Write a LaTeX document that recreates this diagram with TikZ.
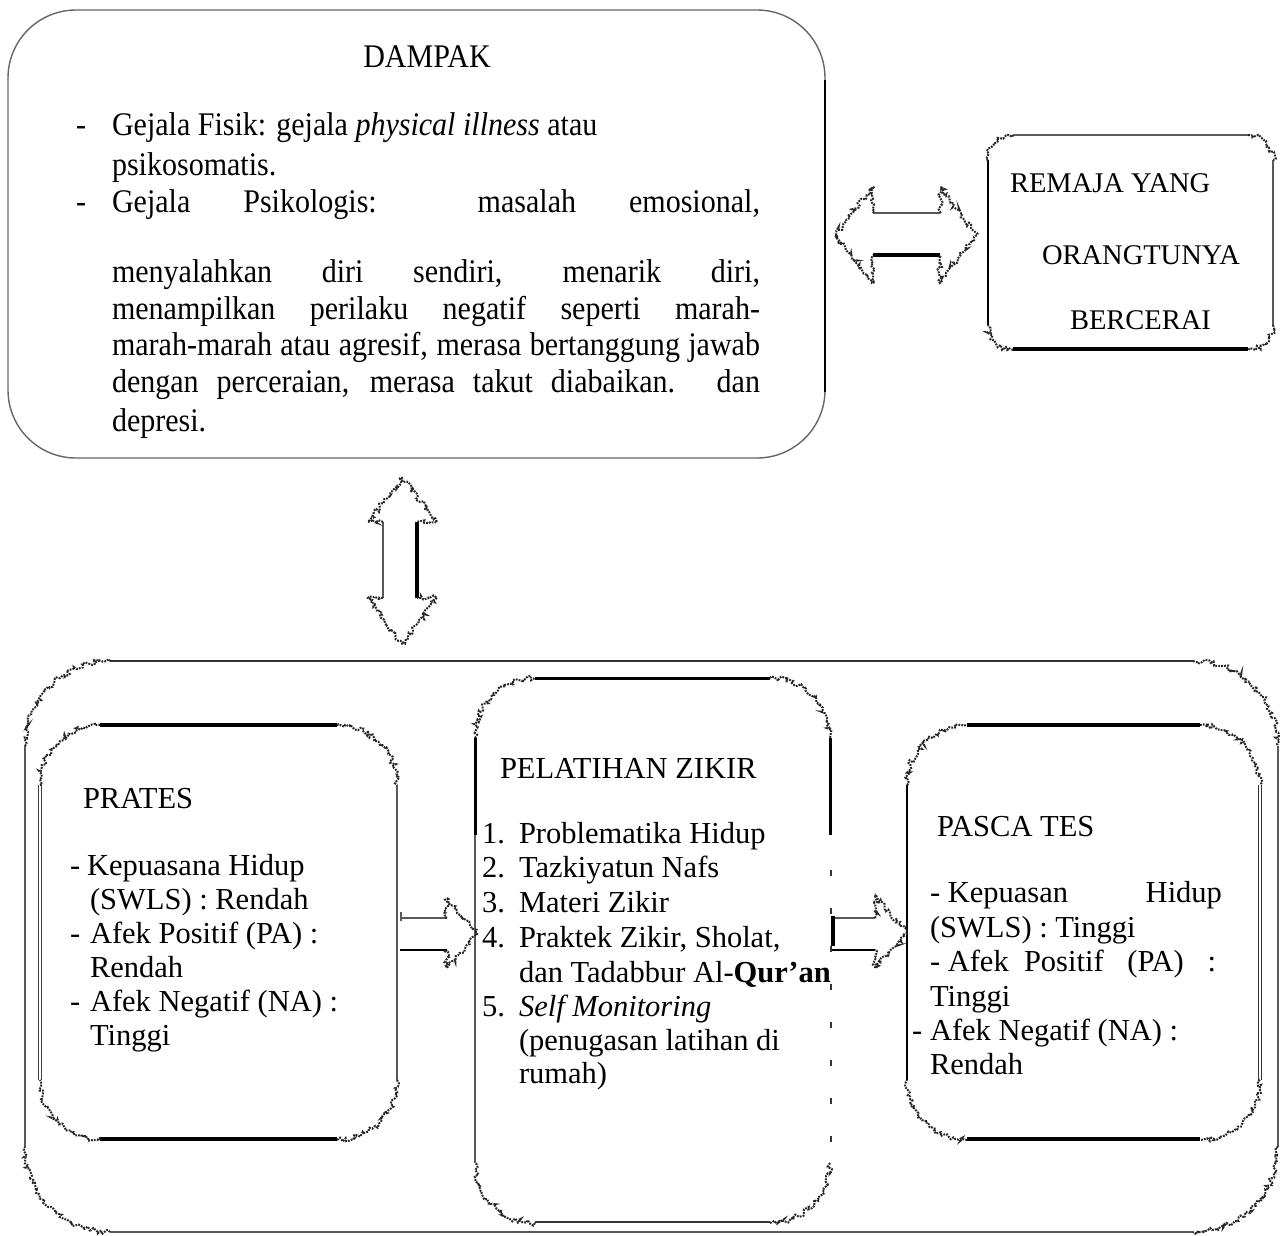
\documentclass[tikz,border=0pt]{standalone}
\usepackage{fontspec}
\setmainfont{Liberation Serif}
\newfontfamily\topfont{Liberation Serif}[FakeStretch=0.91]
\usetikzlibrary{decorations.pathmorphing}
\tikzset{
 txt/.style={anchor=base west, inner sep=0pt, outer sep=0pt},
 bigtxt/.style={txt, font=\topfont\fontsize{33}{40}\selectfont},
 remtxt/.style={txt, font=\fontsize{28.5}{33}\selectfont},
 lowtxt/.style={txt, font=\fontsize{30.5}{35}\selectfont},
 thinedge/.style={draw=black!65, line width=1.4},
 thickedge/.style={draw=black, line width=3.5},
 midedge/.style={draw=black, line width=2.2},
 speck/.style={draw=black!85, line width=2, decorate, decoration={random steps, segment length=2.4pt, amplitude=2.6pt}, dash pattern=on 1.8pt off 1.1pt},
 boxshape/.style={draw=none, inner sep=0pt, outer sep=0pt}
}
\newcommand\cornerset[5]{%
 \draw[speck] (#1,{#2+#5}) arc[start angle=180, end angle=270, radius=#5];
 \draw[speck] ({#3-#5},#2) arc[start angle=270, end angle=360, radius=#5];
 \draw[speck] (#3,{#4-#5}) arc[start angle=0, end angle=90, radius=#5];
 \draw[speck] ({#1+#5},#4) arc[start angle=90, end angle=180, radius=#5];
}
\begin{document}
\begin{tikzpicture}[x=1pt,y=-1pt]
\useasboundingbox (0,0) rectangle (1283,1235);

% ---------- DAMPAK box ----------
\node[boxshape, draw=black!60, line width=1.4, rounded corners=68pt, minimum width=817pt, minimum height=448pt] (dampak) at (416.5,234) {};
\draw[line width=2.6] (825,80) -- (825,392);

\node[bigtxt, anchor=base] (t0) at (427,67) {DAMPAK};
\node[bigtxt] (d1) at (76,135) {-};
\node[bigtxt] (l1) at (112,135) {Gejala Fisik: gejala \textit{physical illness} atau};
\node[bigtxt] (l2) at (112,175) {psikosomatis.};
\node[bigtxt] (d2) at (76,212) {-};
\node[bigtxt] (l3) at (112,212) {\makebox[648pt][s]{Gejala Psikologis: masalah emosional,}};
\node[bigtxt] (l4) at (112,282) {\makebox[648pt][s]{menyalahkan diri sendiri, menarik diri,}};
\node[bigtxt] (l5) at (112,319) {\makebox[648pt][s]{menampilkan perilaku negatif seperti marah-}};
\node[bigtxt] (l6) at (112,355) {\makebox[648pt][s]{marah-marah atau agresif, merasa bertanggung jawab}};
\node[bigtxt] (l7) at (112,392) {\makebox[648pt][s]{dengan perceraian, merasa takut diabaikan. dan}};
\node[bigtxt] (l8) at (112,431) {depresi.};

% ---------- REMAJA box ----------
\node[boxshape, minimum width=285pt, minimum height=215pt] (remaja) at (1130.5,242.5) {};
\draw[thinedge] (1013,135) -- (1248,135);
\draw[thickedge] (1013,349) -- (1248,349);
\draw[midedge] (988,160) -- (988,325);
\draw[thinedge] (1273,160) -- (1273,325);
\cornerset{988}{135}{1273}{350}{25}
\node[remtxt] (r1) at (1010,192) {REMAJA YANG};
\node[remtxt] (r2) at (1042,264) {ORANGTUNYA};
\node[remtxt] (r3) at (1070,329) {BERCERAI};

% ---------- horizontal double arrow ----------
\draw[thinedge] (873,213) -- (940,213);
\draw[line width=4] (873,255) -- (940,255);
\draw[speck] (873,213) -- (873,187) -- (835,235) -- (873,283) -- (873,255);
\draw[speck] (940,213) -- (940,187) -- (977,235) -- (940,283) -- (940,255);

% ---------- vertical double arrow ----------
\draw[thinedge] (383,522) -- (383,598);
\draw[line width=3.5] (417,522) -- (417,598);
\draw[speck] (383,522) -- (368,522) -- (402,478) -- (437,522) -- (417,522);
\draw[speck] (383,598) -- (368,598) -- (402,645) -- (437,598) -- (417,598);

% ---------- outer container ----------
\node[boxshape, minimum width=1253pt, minimum height=572pt] (outer) at (651.5,947) {};
\draw[draw=black!80, line width=2.2] (110,661) -- (1193,661);
\draw[thinedge] (110,1232) -- (1193,1232);
\draw[thinedge] (25,746) -- (25,1147);
\draw[thinedge] (1278,746) -- (1278,1147);
\cornerset{25}{661}{1278}{1232}{85}

% ---------- PRATES box ----------
\node[boxshape, minimum width=357pt, minimum height=415pt] (prates) at (218.5,932.5) {};
\draw[thickedge] (100,725) -- (337,725);
\draw[thickedge] (100,1139) -- (337,1139);
\draw[draw=black!75, line width=1.2, double, double distance=1.5pt] (40,785) -- (40,1080);
\draw[thinedge] (397,785) -- (397,1080);
\cornerset{40}{725}{397}{1140}{60}
\node[lowtxt] (p0) at (83,808) {PRATES};
\node[lowtxt] (pd1) at (70,875) {-};
\node[lowtxt] (p1) at (87,875) {Kepuasana Hidup};
\node[lowtxt] (p2) at (90,909) {(SWLS) : Rendah};
\node[lowtxt] (pd2) at (70,943) {-};
\node[lowtxt] (p3) at (90,943) {Afek Positif (PA) :};
\node[lowtxt] (p4) at (90,977) {Rendah};
\node[lowtxt] (pd3) at (70,1011) {-};
\node[lowtxt] (p5) at (90,1011) {Afek Negatif (NA) :};
\node[lowtxt] (p6) at (90,1045) {Tinggi};

% ---------- PELATIHAN box ----------
\node[boxshape, minimum width=355pt, minimum height=545pt] (pelatihan) at (652.5,950.5) {};
\draw[draw=black, line width=3] (535,678) -- (770,678);
\draw[draw=black!80, line width=2] (535,1222) -- (770,1222);
\draw[draw=black, line width=3] (475,738) -- (475,835);
\draw[thinedge] (475,835) -- (475,1163);
\draw[draw=black, line width=3] (830,738) -- (830,835);
\draw[draw=black!80, line width=1.6, dash pattern=on 6pt off 32pt] (831,870) -- (831,1163);
\cornerset{475}{678}{830}{1223}{60}
\node[lowtxt] (z0) at (500,778) {PELATIHAN ZIKIR};
\node[lowtxt] (n1) at (482,843) {1.};
\node[lowtxt] (z1) at (519,843) {Problematika Hidup};
\node[lowtxt] (n2) at (482,877) {2.};
\node[lowtxt] (z2) at (519,877) {Tazkiyatun Nafs};
\node[lowtxt] (n3) at (482,912) {3.};
\node[lowtxt] (z3) at (519,912) {Materi Zikir};
\node[lowtxt] (n4) at (482,947) {4.};
\node[lowtxt] (z4) at (519,947) {Praktek Zikir, Sholat,};
\node[lowtxt] (z5) at (519,982) {dan Tadabbur Al-\textbf{Qur’an}};
\node[lowtxt] (n5) at (482,1016) {5.};
\node[lowtxt] (z6) at (519,1016) {\textit{Self Monitoring}};
\node[lowtxt] (z7) at (519,1050) {(penugasan latihan di};
\node[lowtxt] (z8) at (519,1083) {rumah)};

% ---------- PASCA TES box ----------
\node[boxshape, minimum width=353pt, minimum height=415pt] (pasca) at (1083.5,932.5) {};
\draw[thickedge] (967,725) -- (1200,725);
\draw[thickedge] (967,1139) -- (1200,1139);
\draw[draw=black, line width=2.6] (907,785) -- (907,1080);
\draw[draw=black!80, line width=1.4, double, double distance=2pt] (1260,785) -- (1260,1080);
\cornerset{907}{725}{1260}{1140}{60}
\node[lowtxt] (s0) at (937,836) {PASCA TES};
\node[lowtxt] (s1) at (930,902) {\makebox[292pt][l]{- Kepuasan\hfill Hidup}};
\node[lowtxt] (s2) at (930,937) {(SWLS) : Tinggi};
\node[lowtxt] (s3) at (930,971) {\makebox[286pt][l]{- Afek\ \ Positif\hfill(PA)\hfill:}};
\node[lowtxt] (s4) at (930,1006) {Tinggi};
\node[lowtxt] (sd) at (912,1040) {-};
\node[lowtxt] (s5) at (930,1040) {Afek Negatif (NA) :};
\node[lowtxt] (s6) at (930,1074) {Rendah};

% ---------- arrow PRATES -> PELATIHAN ----------
\draw[thinedge] (400,918) -- (447,918);
\draw[midedge] (400,950) -- (447,950);
\draw[thinedge] (401,912) -- (401,921);
\draw[speck] (447,918) -- (447,899) -- (477,934) -- (447,968) -- (447,950);

% ---------- arrow PELATIHAN -> PASCA ----------
\draw[thinedge] (832,918) -- (875,918);
\draw[midedge] (832,950) -- (875,950);
\draw[draw=black, line width=3.5] (833,916) -- (833,946);
\draw[speck] (875,918) -- (875,897) -- (907,933) -- (875,968) -- (875,950);
\end{tikzpicture}
\end{document}
